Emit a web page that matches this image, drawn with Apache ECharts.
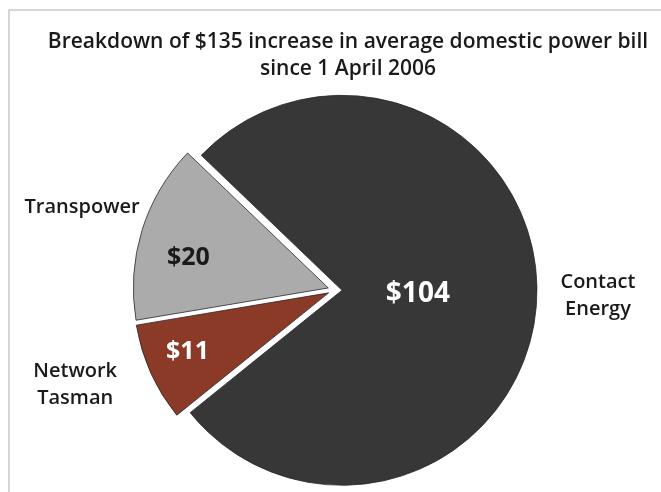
<!DOCTYPE html>
<html>
<head>
<meta charset="utf-8">
<script src="https://cdn.jsdelivr.net/npm/echarts@6/dist/echarts.min.js"></script>
<style>
html,body{margin:0;padding:0;background:#fff;}
#chart{width:661px;height:492px;}
</style>
</head>
<body>
<div id="chart"></div>
<script>
var titleText = 'Breakdown of $135 increase in average domestic power bill\nsince 1 April 2006';
var categories = ['Contact Energy', 'Network Tasman', 'Transpower'];
var values = [104, 11, 20];
var valueLabels = ['$104', '$11', '$20'];
var nameLabels = ['Contact\nEnergy', 'Network\nTasman', 'Transpower'];
var colors = ['#373737', '#8a3a27', '#ababab'];
var valueLabelColors = ['#ffffff', '#ffffff', '#1a1a1a'];

var FONT = '"Open Sans", "Noto Sans", sans-serif';
var center = [335, 290];
var startAngle = 136.2;
var OFFSET = 7;

function makeData(selected, itemFn, labelFn) {
  return categories.map(function (c, i) {
    var d = { name: c, value: values[i], selected: selected };
    if (itemFn) d.itemStyle = itemFn(i);
    if (labelFn) d.label = labelFn(i);
    return d;
  });
}

// transparent pie used only to place one label inside its sector
function labelSeries(idx, angle, radius, selected, style) {
  return {
    type: 'pie',
    center: center,
    radius: radius,
    startAngle: angle,
    clockwise: true,
    selectedMode: selected ? 'multiple' : false,
    selectedOffset: OFFSET,
    silent: true,
    z: 5,
    itemStyle: { color: 'rgba(0,0,0,0)', borderWidth: 0 },
    labelLine: { show: false },
    data: makeData(selected, null, function (i) {
      var l = { show: i === idx, position: 'inside', fontFamily: FONT };
      for (var k in style) l[k] = style[k];
      return l;
    })
  };
}

var valueStyle = function (i, size) {
  return { formatter: valueLabels[i], color: valueLabelColors[i], fontWeight: 700, fontSize: size };
};
var nameStyle = function (i) {
  return { formatter: nameLabels[i], color: '#1a1a1a', fontWeight: 600, fontSize: 20, lineHeight: 27 };
};

var chart = echarts.init(document.getElementById('chart'), null, { renderer: 'canvas' });
chart.setOption({
  backgroundColor: '#ffffff',
  animation: false,
  title: {
    text: titleText,
    left: 343,
    textAlign: 'center',
    top: 24,
    textStyle: { fontFamily: FONT, fontWeight: 600, fontSize: 21, color: '#1a1a1a', lineHeight: 27 }
  },
  graphic: [{
    type: 'rect',
    shape: { x: 9, y: 10, width: 660, height: 500 },
    style: { fill: 'none', stroke: '#c8c8c8', lineWidth: 1.5 },
    silent: true
  }],
  series: [
    {
      type: 'pie',
      center: center,
      radius: 195,
      startAngle: startAngle,
      clockwise: true,
      selectedMode: 'multiple',
      selectedOffset: OFFSET,
      silent: true,
      label: { show: false },
      labelLine: { show: false },
      data: makeData(true, function (i) {
        return { color: colors[i], borderColor: '#2a2a2a', borderWidth: 0.8 };
      })
    },
    labelSeries(0, 135.6, [0, 146], true, valueStyle(0, 28)),
    labelSeries(1, 134.8, [0, 300], true, valueStyle(1, 25)),
    labelSeries(2, 141.0, [0, 280], true, valueStyle(2, 25)),
    labelSeries(0, 137.5, [230, 290], false, nameStyle(0)),
    labelSeries(1, 132.0, [244, 303], false, nameStyle(1)),
    labelSeries(2, 135.3, [233, 293], false, nameStyle(2))
  ]
});
</script>
</body>
</html>
